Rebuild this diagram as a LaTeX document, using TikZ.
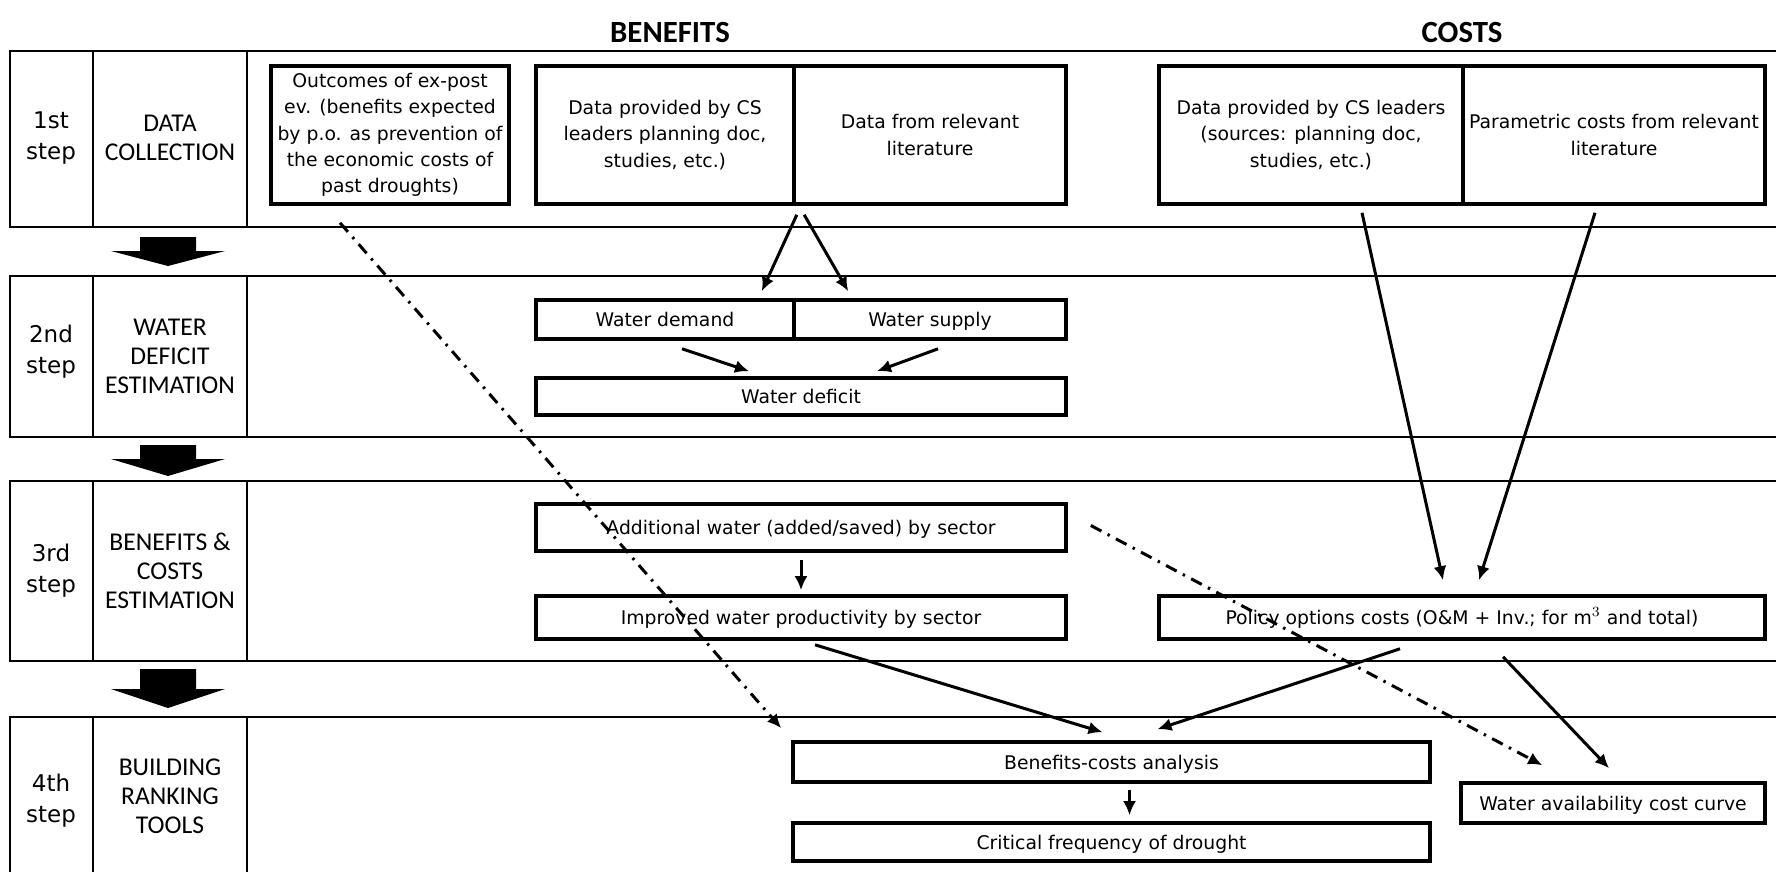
\documentclass[tikz,border=0pt]{standalone}
\usepackage{fontspec}
\setmainfont{DejaVu Sans}
\newfontfamily\headfont{Carlito}
\usepackage{tikz}
\usetikzlibrary{arrows.meta}

\begin{document}
\begin{tikzpicture}[x=0.5pt,y=-0.5pt,
   row/.style={line width=1pt},
   box/.style={draw,line width=1.8pt,inner sep=1pt,align=center,font=\fontsize{9.4}{13.2}\selectfont},
   one/.style={text height=1.75ex,text depth=0.45ex},
   stepnum/.style={align=center,font=\fontsize{11.5}{15.5}\selectfont},
   phase/.style={align=center,font=\headfont\fontsize{12.8}{14.5}\selectfont},
   head/.style={font=\headfont\bfseries\fontsize{15.4}{18}\selectfont},
   flow/.style={-{Latex[length=7pt,width=6.5pt]},line width=1.5pt},
   skip/.style={flow,dash pattern=on 6pt off 3.5pt on 1.2pt off 3.5pt}]
  \useasboundingbox (0,0) rectangle (1776,872);
  % rows of the table
  \foreach \t/\b in {51/227,276/437,481/661}{
    \draw[row] (1776,\t) -- (10,\t) -- (10,\b) -- (1776,\b);
    \draw[row] (93,\t) -- (93,\b) (247,\t) -- (247,\b);
  }
  \draw[row] (1776,717) -- (10,717) -- (10,872) (93,717) -- (93,872) (247,717) -- (247,872);
  % step arrows
  \foreach \t/\b/\e in {237/251/266,445/459/476,669/689/708}
    \fill (140,\t) -- (196,\t) -- (196,\b) -- (225,\b) -- (168,\e) -- (111,\b) -- (140,\b) -- cycle;
  % headers
  \node[head] (benefits) at (670,33) {BENEFITS};
  \node[head] (costs) at (1462,33) {COSTS};
  % step labels
  \node[stepnum] (step1) at (51,138) {1st\\step};
  \node[phase] (phase1) at (170,138) {DATA\\COLLECTION};
  \node[stepnum] (step2) at (51,352) {2nd\\step};
  \node[phase] (phase2) at (170,356) {WATER\\DEFICIT\\ESTIMATION};
  \node[stepnum] (step3) at (51,571) {3rd\\step};
  \node[phase] (phase3) at (170,571) {BENEFITS \&\\COSTS\\ESTIMATION};
  \node[stepnum] (step4) at (51,801) {4th\\step};
  \node[phase] (phase4) at (170,796) {BUILDING\\RANKING\\TOOLS};
  % 1st step
  \node[box,minimum width=119pt,minimum height=69pt] (outcomes) at (390,135)
    {Outcomes of ex-post\\ev. (benefits expected\\by p.o. as prevention of\\the economic costs of\\past droughts)};
  \node[box,minimum width=129pt,minimum height=69pt] (datacs) at (665,135)
    {Data provided by CS\\leaders planning doc,\\studies, etc.)};
  \node[box,minimum width=136pt,minimum height=69pt] (datalit) at (930,135)
    {Data from relevant\\literature};
  \node[box,minimum width=152pt,minimum height=69pt] (costcs) at (1311,135)
    {Data provided by CS leaders\\(sources: planning doc,\\studies, etc.)};
  \node[box,minimum width=151pt,minimum height=69pt] (costlit) at (1614,135)
    {Parametric costs from relevant\\literature};
  % 2nd step
  \node[box,one,minimum width=129pt,minimum height=19.5pt] (demand) at (665,319.5) {Water demand};
  \node[box,one,minimum width=136pt,minimum height=19.5pt] (supply) at (930,319.5) {Water supply};
  \node[box,one,minimum width=265pt,minimum height=18.5pt] (deficit) at (801,396.5) {Water deficit};
  % 3rd step
  \node[box,one,minimum width=265pt,minimum height=23.5pt] (addwater) at (801,527.5)
    {Additional water (added/saved) by sector};
  \node[box,one,minimum width=265pt,minimum height=21.5pt] (improved) at (801,617.5)
    {Improved water productivity by sector};
  \node[box,one,minimum width=303pt,minimum height=21.5pt] (policy) at (1462,617.5)
    {Policy options costs (O\&M + Inv.; for m$^{3}$ and total)};
  % 4th step
  \node[box,one,minimum width=318.5pt,minimum height=20pt] (bca) at (1111.5,762) {Benefits-costs analysis};
  \node[box,one,minimum width=318.5pt,minimum height=19pt] (critical) at (1111.5,842) {Critical frequency of drought};
  \node[box,one,minimum width=152pt,minimum height=20pt] (wacc) at (1613,803) {Water availability cost curve};
  % connectors
  \draw[flow] ([shift={(1,9)}]datacs.south east) -- ([shift={(-34,-7)}]demand.north east);
  \draw[flow] ([shift={(12,9)}]datalit.south west) -- ([shift={(56,-7)}]supply.north west);
  \draw[flow] ([shift={(17,8)}]demand.south) -- ([shift={(-52,-5)}]deficit.north);
  \draw[flow] ([shift={(8,8)}]supply.south) -- ([shift={(76,-5)}]deficit.north);
  \draw[flow] ([shift={(0,7)}]addwater.south) -- ([shift={(0,-4)}]improved.north);
  \draw[flow] ([shift={(14,4)}]improved.south) -- ([shift={(-9,-8)}]bca.north);
  \draw[flow] ([shift={(-62,8)}]policy.south) -- ([shift={(46,-11)}]bca.north);
  \draw[flow] ([shift={(41,16)}]policy.south) -- ([shift={(-4,-13)}]wacc.north);
  \draw[flow] ([shift={(51,7)}]costcs.south) -- ([shift={(-19,-14)}]policy.north);
  \draw[flow] ([shift={(-19,7)}]costlit.south) -- ([shift={(17,-14)}]policy.north);
  \draw[flow] ([shift={(18,6)}]bca.south) -- ([shift={(18,-6)}]critical.north);
  \draw[skip] ([shift={(-50,17)}]outcomes.south) -- ([shift={(-10,-12)}]bca.north west);
  \draw[skip] ([shift={(23,-2)}]addwater.east) -- ([shift={(83,-16)}]wacc.north west);
\end{tikzpicture}
\end{document}
